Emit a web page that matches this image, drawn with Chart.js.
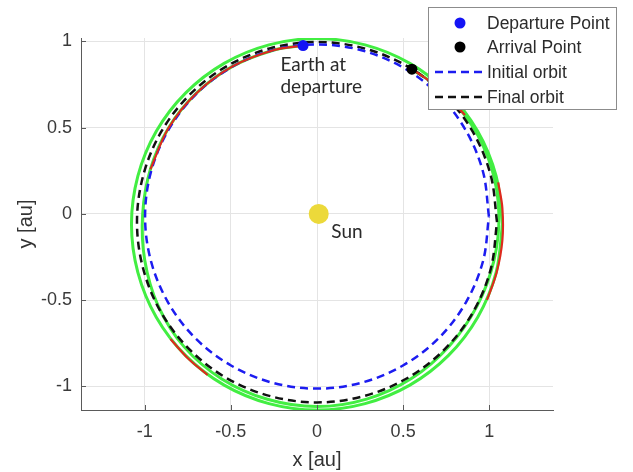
<!DOCTYPE html>
<html><head><meta charset="utf-8">
<script src="https://cdn.jsdelivr.net/npm/chart.js@4.4.0/dist/chart.umd.min.js"></script>
<style>html,body{margin:0;padding:0;background:#fff;} canvas{display:block;}</style>
</head><body>
<canvas id="c" width="633" height="472"></canvas>
<script>
// ---- data (au) ----
const xTicks = [-1, -0.5, 0, 0.5, 1];
const yTicks = [-1, -0.5, 0, 0.5, 1];
const xRange = [-1.37, 1.37];
const yRange = [-1.137, 1.02];

const initialOrbitX = [0.998,0.964,0.864,0.706,0.499,0.258,0,-0.258,-0.499,-0.706,-0.864,-0.964,-0.998,-0.964,-0.864,-0.706,-0.499,-0.258,0,0.258,0.499,0.706,0.864,0.964,0.998];
const initialOrbitY = [-0.015,0.243,0.484,0.691,0.849,0.949,0.983,0.949,0.849,0.691,0.484,0.243,-0.015,-0.273,-0.514,-0.721,-0.879,-0.979,-1.013,-0.979,-0.879,-0.721,-0.514,-0.273,-0.015];

const finalOrbitX = [1.045,1.009,0.905,0.739,0.523,0.270,0,-0.270,-0.523,-0.739,-0.905,-1.009,-1.045,-1.009,-0.905,-0.739,-0.523,-0.270,0,0.270,0.523,0.739,0.905,1.009,1.045];
const finalOrbitY = [-0.048,0.222,0.475,0.691,0.857,0.961,0.997,0.961,0.857,0.691,0.475,0.222,-0.048,-0.318,-0.571,-0.787,-0.953,-1.057,-1.093,-1.057,-0.953,-0.787,-0.571,-0.318,-0.048];

const outerPathX = [1.077,1.040,0.933,0.762,0.539,0.279,0,-0.279,-0.539,-0.762,-0.933,-1.040,-1.077,-1.040,-0.933,-0.762,-0.539,-0.279,0,0.279,0.539,0.762,0.933,1.040,1.077];
const outerPathY = [-0.060,0.219,0.479,0.702,0.873,0.980,1.017,0.980,0.873,0.702,0.479,0.219,-0.060,-0.339,-0.599,-0.822,-0.993,-1.100,-1.137,-1.100,-0.993,-0.822,-0.599,-0.339,-0.060];

const transferX = [-0.081,-0.254,-0.493,-0.700,-0.862,-0.967,-1.012,-1.000,-0.922,-0.771,-0.553,-0.288,0,0.288,0.550,0.767,0.928,1.026,1.056,1.012,0.897,0.721,0.551];
const transferY = [0.976,0.949,0.854,0.700,0.498,0.259,0,-0.268,-0.533,-0.771,-0.957,-1.075,-1.117,-1.074,-0.953,-0.767,-0.536,-0.275,0,0.271,0.518,0.721,0.839];

const thrust1X = [-0.081,-0.254,-0.493,-0.700,-0.862,-0.967];
const thrust1Y = [0.976,0.949,0.854,0.700,0.498,0.259];
const thrust2X = [-0.851,-0.750,-0.635];
const thrust2Y = [-0.725,-0.837,-0.934];
const thrust3X = [0.987,1.043,1.076,1.076,1.052];
const thrust3Y = [-0.499,-0.340,-0.154,0.034,0.183];
const thrust4X = [0.859,0.721,0.551];
const thrust4Y = [0.573,0.721,0.839];

const departurePoint = [-0.081, 0.976];
const arrivalPoint = [0.551, 0.839];
const sunPoint = [0.01, 0];

const legendLabels = ['Departure Point', 'Arrival Point', 'Initial orbit', 'Final orbit'];
const notes = [
  {text: 'Earth at', x: -0.212, y: 0.826},
  {text: 'departure', x: -0.212, y: 0.702},
  {text: 'Sun', x: 0.083, y: -0.139}
];

// ---- build ----
const pts = (xs, ys) => xs.map((x, i) => ({x: x, y: ys[i]}));
const GREEN = '#42ee42', RED = '#de2a1e', BLUE = '#1c1cf0', BLACK = '#111111';

const lineDs = (label, xs, ys, color, width, dash, order) => ({
  label, data: pts(xs, ys), showLine: true, borderColor: color, backgroundColor: color,
  borderWidth: width, borderDash: dash || [], pointRadius: 0, tension: 0.34, fill: false, order
});
const dotDs = (label, p, color, r, order) => ({
  label, data: [{x: p[0], y: p[1]}], showLine: false, pointRadius: r, pointHoverRadius: r,
  pointBackgroundColor: color, pointBorderColor: color, backgroundColor: color, borderColor: color, borderWidth: 0, order
});

const datasets = [
  dotDs('Departure Point', departurePoint, '#1414f5', 5.5, 0),
  dotDs('Arrival Point', arrivalPoint, '#000000', 5.5, 0),
  lineDs('Initial orbit', initialOrbitX, initialOrbitY, BLUE, 2.5, [8, 5], 3),
  lineDs('Final orbit', finalOrbitX, finalOrbitY, BLACK, 2.5, [8, 5], 3),
  lineDs('thrust1', thrust1X, thrust1Y, RED, 2.2, null, 2),
  lineDs('thrust2', thrust2X, thrust2Y, RED, 2.2, null, 2),
  lineDs('thrust3', thrust3X, thrust3Y, RED, 2.2, null, 2),
  lineDs('thrust4', thrust4X, thrust4Y, RED, 2.2, null, 2),
  lineDs('outer', outerPathX, outerPathY, GREEN, 3, null, 5),
  lineDs('transfer', transferX, transferY, GREEN, 3, null, 5),
  dotDs('Sun', sunPoint, '#ecd93a', 10, 6)
];

const overlayPlugin = {
  id: 'overlay',
  afterDraw(chart) {
    const ctx = chart.ctx, xs = chart.scales.x, ys = chart.scales.y, ca = chart.chartArea;
    ctx.save();
    // inward tick marks
    ctx.strokeStyle = '#5a5a5a'; ctx.lineWidth = 1;
    xTicks.forEach(v => { const p = Math.round(xs.getPixelForValue(v)) + 0.5; ctx.beginPath(); ctx.moveTo(p, ca.bottom); ctx.lineTo(p, ca.bottom - 5); ctx.stroke(); });
    yTicks.forEach(v => { const p = Math.round(ys.getPixelForValue(v)) + 0.5; ctx.beginPath(); ctx.moveTo(ca.left, p); ctx.lineTo(ca.left + 5, p); ctx.stroke(); });
    // annotations
    ctx.fillStyle = '#2a2a2a'; ctx.font = '19px Lato, "Open Sans", sans-serif'; ctx.textBaseline = 'alphabetic'; ctx.textAlign = 'left';
    notes.forEach(n => ctx.fillText(n.text, xs.getPixelForValue(n.x), ys.getPixelForValue(n.y)));
    // legend
    const bx = 428, by = 7, bw = 188, bh = 102;
    ctx.fillStyle = '#ffffff'; ctx.fillRect(bx, by, bw, bh);
    ctx.strokeStyle = '#8c8c8c'; ctx.lineWidth = 1; ctx.strokeRect(bx + 0.5, by + 0.5, bw, bh);
    const rows = [23, 47, 72, 97];
    legendLabels.forEach((lab, i) => {
      const ds = chart.data.datasets.find(d => d.label === lab);
      const y = by + rows[i] - 7;
      if (ds.showLine) {
        ctx.strokeStyle = ds.borderColor; ctx.lineWidth = ds.borderWidth; ctx.setLineDash(ds.borderDash);
        ctx.beginPath(); ctx.moveTo(bx + 7, y); ctx.lineTo(bx + 55, y); ctx.stroke(); ctx.setLineDash([]);
      } else {
        ctx.fillStyle = ds.pointBackgroundColor; ctx.beginPath(); ctx.arc(bx + 32, y, 5.5, 0, Math.PI * 2); ctx.fill();
      }
      ctx.fillStyle = '#2b2b2b'; ctx.font = '17.5px "Liberation Sans", Arial, sans-serif'; ctx.textBaseline = 'middle';
      ctx.fillText(lab, bx + 59, y + 1);
    });
    ctx.restore();
  }
};

const tickFont = {family: '"Liberation Sans", Arial, sans-serif', size: 18};
new Chart(document.getElementById('c'), {
  type: 'scatter',
  data: {datasets},
  options: {
    responsive: false, animation: false, devicePixelRatio: 1,
    layout: {padding: {top: 38, right: 80, left: 0, bottom: 0}},
    plugins: {legend: {display: false}, tooltip: {enabled: false}},
    scales: {
      x: {
        type: 'linear', min: xRange[0], max: xRange[1],
        afterFit: s => { s.height = 62; },
        afterBuildTicks: s => { s.ticks = xTicks.map(v => ({value: v})); },
        grid: {color: '#e4e4e4', drawTicks: false},
        border: {display: true, color: '#5a5a5a', width: 1},
        ticks: {font: tickFont, color: '#3a3a3a', padding: 11, callback: v => String(v), maxRotation: 0},
        title: {display: true, text: 'x [au]', font: {family: '"Liberation Sans", Arial, sans-serif', size: 20}, color: '#333', padding: {top: 0, bottom: 0}}
      },
      y: {
        type: 'linear', min: yRange[0], max: yRange[1],
        afterFit: s => { s.width = 81; },
        afterBuildTicks: s => { s.ticks = yTicks.map(v => ({value: v})); },
        grid: {color: '#e4e4e4', drawTicks: false},
        border: {display: true, color: '#5a5a5a', width: 1},
        ticks: {font: tickFont, color: '#3a3a3a', padding: 9, callback: v => String(v)},
        title: {display: true, text: 'y [au]', font: {family: '"Liberation Sans", Arial, sans-serif', size: 20}, color: '#333', padding: {top: 14, bottom: 0}}
      }
    }
  },
  plugins: [overlayPlugin]
});
</script>
</body></html>
